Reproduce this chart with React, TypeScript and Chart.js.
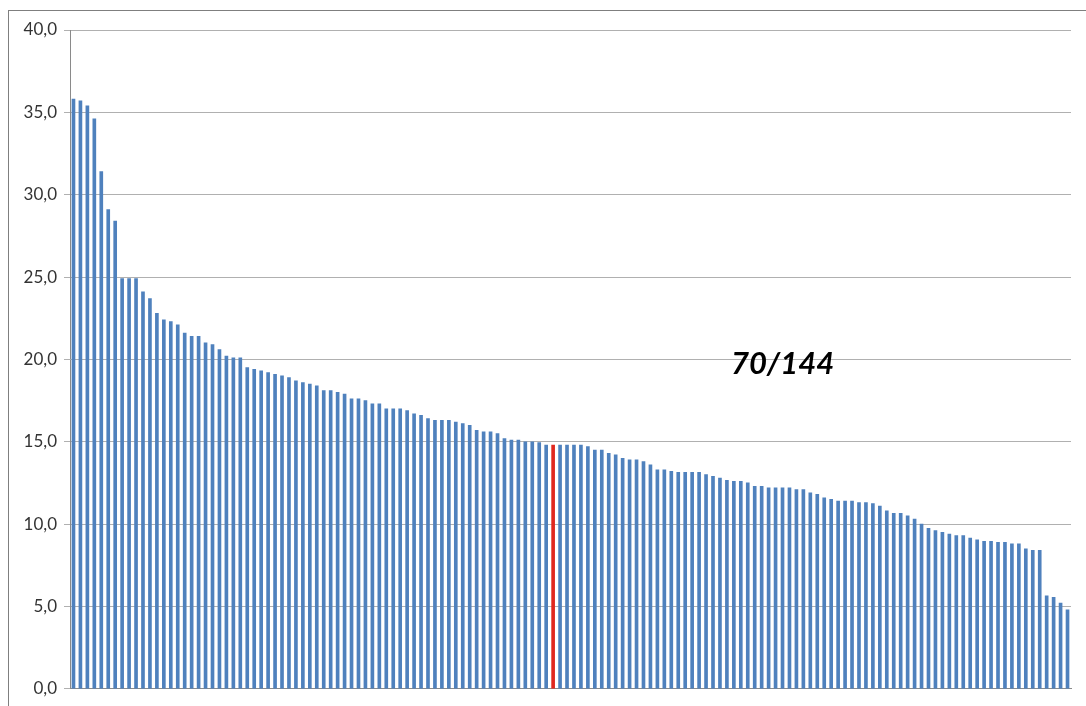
import React, { useEffect, useRef } from "react";
import { Chart, registerables } from "chart.js";

Chart.register(...registerables);

// Sorted values (144 units)
const values: number[] = [
  35.8, 35.7, 35.4, 34.6, 31.4, 29.1, 28.4, 24.9, 24.9, 24.9, 24.1, 23.7, 22.8, 22.4, 22.3, 22.1, 21.6, 21.4, 21.4, 21.0, 20.9, 20.6, 20.2, 20.1, 20.1,
  19.5, 19.4, 19.3, 19.2, 19.1, 19.0, 18.9, 18.7, 18.6, 18.5, 18.4, 18.1, 18.1, 18.0, 17.9, 17.6, 17.6, 17.5, 17.3, 17.3, 17.0, 17.0, 17.0, 16.9, 16.7,
  16.6, 16.4, 16.3, 16.3, 16.3, 16.2, 16.1, 16.0, 15.7, 15.6, 15.6, 15.5, 15.2, 15.1, 15.1, 15.0, 15.0, 14.95, 14.8, 14.8, 14.8, 14.8, 14.8, 14.8, 14.7,
  14.5, 14.5, 14.3, 14.2, 14.0, 13.9, 13.9, 13.8, 13.6, 13.3, 13.3, 13.2, 13.15, 13.15, 13.15, 13.15, 13.0, 12.9, 12.8, 12.65, 12.6, 12.6, 12.5, 12.3, 12.3,
  12.2, 12.2, 12.2, 12.2, 12.1, 12.1, 11.9, 11.8, 11.6, 11.5, 11.4, 11.4, 11.4, 11.3, 11.3, 11.25, 11.1, 10.8, 10.65, 10.65, 10.5, 10.3, 10.0, 9.75, 9.6,
  9.5, 9.4, 9.3, 9.3, 9.15, 9.05, 8.95, 8.95, 8.9, 8.9, 8.8, 8.8, 8.5, 8.4, 8.4, 5.65, 5.55, 5.2, 4.8,
];

// Rank categories 1..144
const categories: string[] = values.map((_, i) => String(i + 1));

const highlightRank = 70; // 1-based rank of the highlighted unit
const annotationText = `${highlightRank}/${values.length}`;

const yTicks: number[] = [0, 5, 10, 15, 20, 25, 30, 35, 40];

const BLUE = "#4f81bd";
const RED = "#e0281e";

export default function App() {
  const canvasRef = useRef<HTMLCanvasElement | null>(null);

  useEffect(() => {
    const canvas = canvasRef.current;
    if (!canvas) return;

    const annotationPlugin = {
      id: "rankAnnotation",
      afterDraw(chart: any) {
        const { ctx, scales } = chart;
        const x = scales.x.getPixelForValue(102);
        const y = scales.y.getPixelForValue(19.7);
        ctx.save();
        ctx.font = "italic bold 31px Lato";
        ctx.fillStyle = "#000";
        ctx.textAlign = "center";
        ctx.textBaseline = "middle";
        ctx.fillText(annotationText, x, y);
        ctx.restore();
      },
    };

    const chart = new Chart(canvas, {
      type: "bar",
      data: {
        labels: categories,
        datasets: [
          {
            data: values,
            backgroundColor: values.map((_, i) => (i === highlightRank - 1 ? RED : BLUE)),
            barThickness: 3,
            borderWidth: 0,
          },
        ],
      },
      options: {
        animation: false,
        responsive: false,
        devicePixelRatio: 1,
        layout: { padding: { top: 30, bottom: 14, left: 0, right: 15 } },
        plugins: {
          legend: { display: false },
          tooltip: { enabled: false },
          title: { display: false },
        },
        scales: {
          x: {
            type: "category",
            offset: true,
            grid: { display: false, drawTicks: false },
            ticks: { display: false },
            border: { display: true, color: "#8a8a8a", width: 1 },
          },
          y: {
            min: 0,
            max: 40,
            afterFit(scale: any) {
              scale.width = 70;
            },
            afterBuildTicks(scale: any) {
              scale.ticks = yTicks.map((v) => ({ value: v }));
            },
            ticks: {
              padding: 7,
              color: "#333",
              font: { family: "Lato", size: 17 },
              callback: (v: any) => Number(v).toFixed(1).replace(".", ","),
            },
            grid: { color: "#b0b0b0", lineWidth: 1, tickLength: 6 },
            border: { display: true, color: "#8a8a8a", width: 1 },
          },
        },
      },
      plugins: [annotationPlugin],
    });

    return () => chart.destroy();
  }, []);

  return (
    <div
      style={{
        position: "fixed",
        left: 0,
        top: 0,
        width: 1086,
        height: 706,
        overflow: "hidden",
        background: "#fff",
      }}
    >
      <div
        style={{
          position: "absolute",
          left: 8,
          top: 10,
          width: 1200,
          height: 800,
          border: "1px solid #7f7f7f",
        }}
      />
      <canvas
        ref={canvasRef}
        width={1086}
        height={706}
        style={{ position: "absolute", left: 0, top: 0, width: 1086, height: 706 }}
      />
    </div>
  );
}
